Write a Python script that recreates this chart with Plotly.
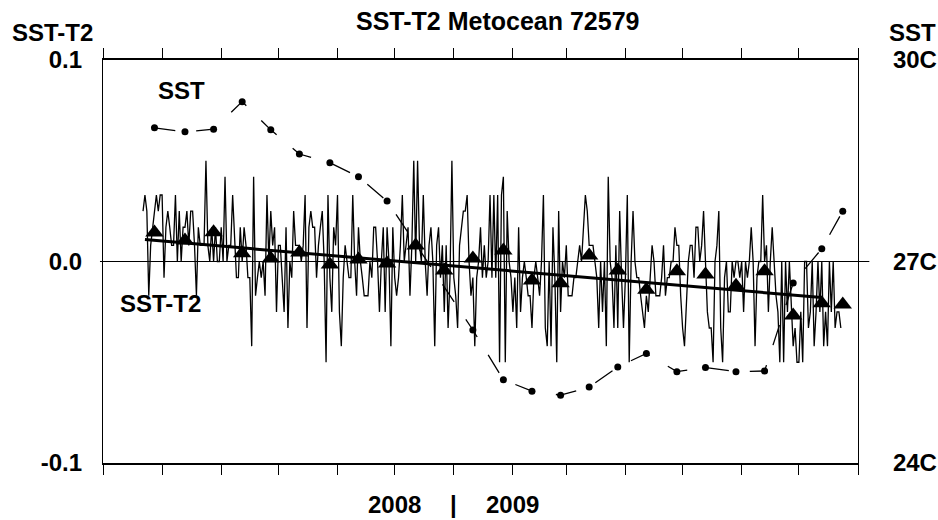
import pandas as pd
import plotly.graph_objects as go

# ---- SST-T2 daily differences, split by period ----
sst_t2_jul_sep = [0.025,0.033,0.025,-0.017,0.008,0.017,0.025,0.033,0.025,0.033,0.033,-0.008,0.017,0.025,0.017,0.008,0.008,0.033,0,0.025,0,0.017,0.017,0.025,0.008,0.025,0.025,0.008,-0.017,0.017,0.008,0.008,0.008,0.05,0.008,0,0.017,0,0.017,0,0,0.017,0,0.042,0,0.008,0.008,0.033,0.008,-0.008,-0.008,0.017,0,0.017,0.008,-0.008,-0.008,-0.042,0.042,-0.017]
sst_t2_sep_nov = [-0.008,0,-0.008,0,-0.017,0.033,0,0.025,0.008,0.017,-0.025,0.008,0.008,-0.008,-0.025,0.017,-0.033,0,-0.008,0.025,0.008,0.008,0.008,0,0.008,0.033,-0.033,0.017,0.025,0.017,0.017,-0.008,0.008,0.017,0.025,0,-0.05,0.033,-0.008,-0.025,0.017,0.008,0.033,-0.025,-0.042,-0.008,0.008,0,-0.008,-0.008,0.033,0,-0.017,0.017,0,-0.008,-0.017,-0.017,-0.017,0,-0.008,0.017,0.017,0,-0.025]
sst_t2_nov_jan = [0,0.017,-0.025,0.017,0,-0.042,0.017,-0.008,-0.017,-0.008,0.008,0.033,0,0.008,0.017,-0.017,0.008,0.05,0,0.05,0.008,0,0.033,0,-0.017,0.008,0.017,0,-0.042,0.008,0.017,-0.008,0.008,-0.025,0.008,-0.033,-0.008,0.05,-0.008,-0.017,-0.033,0.008,0.017,0.025,0.025,0.033,0,-0.017,-0.008,-0.042,-0.008,0,0.017,-0.008,0.008,-0.008,0,0.033,-0.008,0.033,-0.008,0.033,-0.05,0.033,0.042]
sst_t2_jan_apr = [-0.05,0.025,0,-0.008,-0.025,-0.008,-0.033,0.017,-0.025,-0.008,0,-0.008,-0.017,-0.017,-0.033,-0.008,0,-0.008,-0.017,0,0.033,-0.033,-0.042,0,-0.042,0.017,-0.008,-0.05,0.025,-0.025,0,-0.008,0.008,-0.017,-0.017,-0.017,-0.008,-0.008,0,0.008,0,0.017,0.033,0.025,0.008,0.008,0.008,0,-0.008,-0.033,0,-0.025,0,-0.042,0.042,0,-0.008,-0.033,0.008,-0.033,0.025,-0.008,-0.033,-0.008,0.033,-0.05]
sst_t2_apr_jun = [0,0.025,0,-0.008,-0.008,-0.017,-0.025,-0.033,-0.017,-0.025,-0.008,0.008,0,-0.017,-0.017,-0.017,-0.008,0.008,-0.017,-0.008,-0.008,0,0,0.017,0.008,0.008,-0.017,-0.033,-0.042,-0.017,0,0.008,0.008,-0.008,0.017,0.017,0,0.008,0.025,0,-0.025,-0.033,-0.033,-0.05,0,0.008,0.025,-0.033,-0.05,-0.008,0,-0.025,-0.025,0,-0.008,0,0,-0.008,0,-0.025,0,-0.008,0]
sst_t2_jun_jul = [0.017,0,-0.042,-0.008,0,0,0.033,0,0.008,-0.025,0,0.017,0,-0.017,-0.025,-0.05,0,-0.05,0,-0.025,0,-0.025,-0.042,-0.033,-0.05,-0.05,-0.025,-0.05,0,0,-0.033,-0.025,0,-0.042,-0.025,0,-0.025,0,-0.042,-0.025,-0.042,0,-0.025,0,-0.033,-0.025,-0.025,-0.033]
sst_t2_start = "2008-07-22"

# ---- semi-monthly means of SST-T2 ----
mean_dates = ["2008-07-28","2008-08-13","2008-08-28","2008-09-12","2008-09-27","2008-10-12",
              "2008-10-28","2008-11-12","2008-11-27","2008-12-12","2008-12-27","2009-01-11",
              "2009-01-27","2009-02-11","2009-02-26","2009-03-13","2009-03-28","2009-04-12",
              "2009-04-28","2009-05-13","2009-05-29","2009-06-13","2009-06-28","2009-07-13","2009-07-24"]
mean_values = [0.0144,0.0104,0.0145,0.0041,0.0015,0.0045,-0.0015,0.001,-0.001,0.008,-0.0045,0.0015,
               0.0055,-0.0094,-0.0108,0.003,-0.0045,-0.014,-0.0048,-0.0065,-0.012,-0.0048,-0.0268,-0.0207,-0.0213]

# ---- linear trend end points ----
trend_dates = ["2008-07-23", "2009-07-13"]
trend_values = [0.0109, -0.0179]

# ---- SST (deg C), semi-monthly ----
sst_dates = ["2008-07-28","2008-08-13","2008-08-28","2008-09-12","2008-09-27","2008-10-12",
             "2008-10-28","2008-11-12","2008-11-27","2009-01-11","2009-01-27","2009-02-11",
             "2009-02-26","2009-03-13","2009-03-28","2009-04-12","2009-04-28","2009-05-13",
             "2009-05-29","2009-06-13","2009-06-28","2009-07-13","2009-07-24"]
sst_values = [28.99,28.93,28.97,29.38,28.96,28.60,28.47,28.26,27.90,25.98,25.24,25.07,
              25.01,25.13,25.43,25.63,25.36,25.42,25.36,25.37,26.68,27.19,27.75]

# ---- axis labels ----
left_tickvals = [-0.1, 0.0, 0.1]
left_ticktext = ["-0.1", "0.0", "0.1"]
right_tickvals = [24, 27, 30]
right_ticktext = ["24C", "27C", "30C"]
year_labels = [("2008-12-01", "2008"), ("2009-01-01", "|"), ("2009-02-01", "2009")]

sst_t2 = sst_t2_jul_sep + sst_t2_sep_nov + sst_t2_nov_jan + sst_t2_jan_apr + sst_t2_apr_jun + sst_t2_jun_jul
daily_dates = pd.date_range(sst_t2_start, periods=len(sst_t2), freq="D")
month_ticks = pd.date_range("2008-07-01", "2009-08-01", freq="MS")

FONT = "Liberation Sans, Arial, sans-serif"
bold = dict(family=FONT, size=24, color="black", weight="bold")

fig = go.Figure()
fig.add_trace(go.Scatter(x=daily_dates, y=sst_t2, mode="lines",
                         line=dict(color="black", width=1.3)))
fig.add_trace(go.Scatter(x=trend_dates, y=trend_values, mode="lines",
                         line=dict(color="black", width=3)))
fig.add_trace(go.Scatter(x=mean_dates, y=mean_values, mode="markers",
                         marker=dict(symbol="triangle-up", size=16, color="black")))
fig.add_trace(go.Scatter(x=sst_dates, y=sst_values, yaxis="y2", mode="lines+markers",
                         line=dict(color="black", width=1.3, dash="21px,21px"),
                         marker=dict(size=7, color="black")))

fig.update_layout(
    width=938, height=520,
    margin=dict(l=103, r=80, t=60, b=57, autoexpand=False),
    paper_bgcolor="white", plot_bgcolor="white",
    showlegend=False,
    font=dict(family=FONT, color="black"),
    xaxis=dict(type="date", range=["2008-07-01", "2009-08-01"],
               tickvals=month_ticks, showticklabels=False,
               ticks="outside", ticklen=10, tickwidth=1, tickcolor="black",
               showline=True, linecolor="black", linewidth=2, mirror="ticks",
               showgrid=False, zeroline=False, automargin=False),
    yaxis=dict(range=[-0.1, 0.1], tickvals=left_tickvals, ticktext=left_ticktext,
               tickfont=bold, ticks="", ticklabelstandoff=15,
               showline=True, linecolor="black", linewidth=1.2,
               showgrid=False, zeroline=False, automargin=False),
    yaxis2=dict(range=[24, 30], overlaying="y", side="right",
                tickvals=right_tickvals, ticktext=right_ticktext,
                tickfont=bold, ticks="", ticklabelstandoff=29,
                showline=True, linecolor="black", linewidth=1.2,
                showgrid=False, zeroline=False, automargin=False),
)

fig.add_shape(type="line", xref="paper", yref="y", x0=-0.004, x1=1.015, y0=0, y1=0,
              line=dict(color="black", width=1.2))

annotations = [
    dict(text="SST-T2 Metocean 72579", xref="paper", yref="paper", x=0.522, y=1.0 + 39/403,
         xanchor="center", yanchor="middle", showarrow=False, font=dict(bold, size=25)),
    dict(text="SST-T2", xref="paper", yref="paper", x=-(103-10)/755, y=1.0 + 28/403,
         xanchor="left", yanchor="middle", showarrow=False, font=bold),
    dict(text="SST", xref="paper", yref="paper", x=1.0 + 29/755, y=1.0 + 28/403,
         xanchor="left", yanchor="middle", showarrow=False, font=bold),
    dict(text="SST", xref="paper", yref="paper", x=(181-103)/755, y=(463-91)/403,
         xanchor="center", yanchor="middle", showarrow=False, font=bold),
    dict(text="SST-T2", xref="paper", yref="paper", x=(160-103)/755, y=(463-303)/403,
         xanchor="center", yanchor="middle", showarrow=False, font=bold),
]
for d, t in year_labels:
    annotations.append(dict(text=t, xref="x", yref="paper", x=d, y=-(504-463)/403,
                            xanchor="center", yanchor="middle", showarrow=False, font=bold))
fig.update_layout(annotations=annotations)

# remove the default 8px page margin so the figure fills the window exactly
fig.write_html("out.html", config={"displayModeBar": False},
               post_script="document.body.style.margin='0';document.body.style.overflow='hidden';")
